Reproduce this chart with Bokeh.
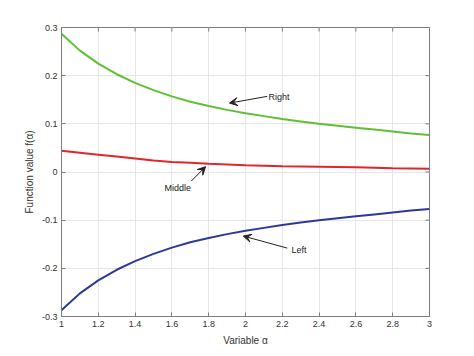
import math
from bokeh.plotting import figure
from bokeh.models import (FixedTicker, Arrow, VeeHead, Label, Range1d)
from bokeh.embed import file_html
from bokeh.resources import INLINE

alpha = [1.0, 1.1, 1.2, 1.3, 1.4, 1.5, 1.6, 1.7, 1.8, 1.9, 2.0,
         2.1, 2.2, 2.3, 2.4, 2.5, 2.6, 2.7, 2.8, 2.9, 3.0]
right = [0.287, 0.252, 0.225, 0.203, 0.185, 0.170, 0.157, 0.146, 0.137, 0.129, 0.122,
         0.116, 0.110, 0.105, 0.100, 0.096, 0.092, 0.088, 0.084, 0.080, 0.077]
middle = [0.044, 0.040, 0.036, 0.032, 0.028, 0.024, 0.021, 0.019, 0.017, 0.0155, 0.014,
          0.013, 0.012, 0.0115, 0.011, 0.0105, 0.010, 0.009, 0.008, 0.0075, 0.007]
left = [-0.287, -0.252, -0.225, -0.203, -0.185, -0.170, -0.157, -0.146, -0.137, -0.129, -0.122,
        -0.116, -0.110, -0.105, -0.100, -0.096, -0.092, -0.088, -0.084, -0.080, -0.077]

x_ticks = [1, 1.2, 1.4, 1.6, 1.8, 2, 2.2, 2.4, 2.6, 2.8, 3]
x_labels = ["1", "1.2", "1.4", "1.6", "1.8", "2", "2.2", "2.4", "2.6", "2.8", "3"]
y_ticks = [-0.3, -0.2, -0.1, 0, 0.1, 0.2, 0.3]
y_labels = ["-0.3", "-0.2", "-0.1", "0", "0.1", "0.2", "0.3"]

# annotations: (text, text_x, text_y, tail_x, tail_y, head_x, head_y)
notes = [
    ("Right", 2.125, 0.155, 2.118, 0.157, 1.913, 0.143),
    ("Middle", 1.56, -0.034, 1.705, -0.019, 1.783, 0.011),
    ("Left", 2.25, -0.161, 2.227, -0.158, 1.988, -0.133),
]

FONT = "Liberation Sans"
AX = "#7f7f7f"
TXT = "#333333"

x0, x1 = 1, 3
y0, y1 = -0.3, 0.3

p = figure(width=466, height=348, output_backend="svg", toolbar_location=None,
           x_range=Range1d(x0, x1), y_range=Range1d(y0, y1),
           min_border_left=61, min_border_top=27, min_border_right=37, min_border_bottom=32,
           x_axis_label="Variable α", y_axis_label="Function value f(α)")
p.frame_width = 368
p.frame_height = 289
p.background_fill_color = "white"
p.border_fill_color = "white"
p.outline_line_color = AX
p.outline_line_width = 1

for ax in p.xaxis:
    ax.ticker = FixedTicker(ticks=x_ticks)
    ax.major_label_overrides = {t: l for t, l in zip(x_ticks, x_labels)}
    ax.axis_label_standoff = 5
for ax in p.yaxis:
    ax.ticker = FixedTicker(ticks=y_ticks)
    ax.major_label_overrides = {t: l for t, l in zip(y_ticks, y_labels)}
    ax.axis_label_standoff = 4

for ax in p.xaxis + p.yaxis:
    ax.major_tick_in = 4
    ax.major_tick_out = 0
    ax.minor_tick_line_color = None
    ax.axis_line_color = AX
    ax.major_tick_line_color = AX
    ax.major_label_text_font = FONT
    ax.major_label_text_font_size = "9px"
    ax.major_label_text_color = TXT
    ax.axis_label_text_font = FONT
    ax.axis_label_text_font_size = "10px"
    ax.axis_label_text_font_style = "normal"
    ax.axis_label_text_color = TXT
    ax.major_label_standoff = 4

p.xgrid.ticker = FixedTicker(ticks=x_ticks)
p.ygrid.ticker = FixedTicker(ticks=y_ticks)
p.grid.grid_line_color = "#e6e6e6"
p.grid.grid_line_width = 1

# inward ticks on the top and right edges (half of each dash is clipped by the frame)
p.scatter(x_ticks, [y1] * len(x_ticks), marker="dash", angle=math.pi / 2, size=8,
          line_color=AX, line_width=1)
p.scatter([x1] * len(y_ticks), y_ticks, marker="dash", size=8, line_color=AX, line_width=1)

p.line(alpha, right, line_color="#5fbf36", line_width=2)
p.line(alpha, middle, line_color="#e3242b", line_width=2)
p.line(alpha, left, line_color="#2b3a96", line_width=2)

for txt, tx, ty, ax0, ay0, ax1, ay1 in notes:
    p.add_layout(Arrow(x_start=ax0, y_start=ay0, x_end=ax1, y_end=ay1, line_color="#222222",
                       line_width=1,
                       end=VeeHead(size=8, fill_color="#222222", line_color="#222222")))
    p.add_layout(Label(x=tx, y=ty, text=txt, text_font=FONT, text_font_size="9px",
                       text_color="#222222", text_baseline="middle", text_align="left"))

open("out.html", "w").write(file_html(p, INLINE))
